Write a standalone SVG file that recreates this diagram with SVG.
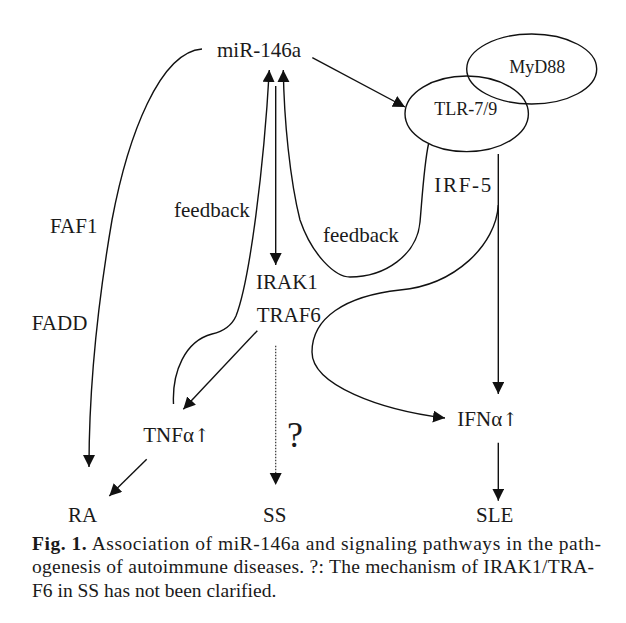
<svg xmlns="http://www.w3.org/2000/svg" width="626" height="623" viewBox="0 0 626 623">
<style>
text{font-family:"Liberation Serif","Times New Roman",serif;fill:#1a1a1a;}
.lbl{font-size:21px;}
.small{font-size:18px;}
.cap{font-size:19.5px;}
.arr{font-family:"DejaVu Serif",serif;font-size:19px;}
.edge{fill:none;stroke:#111;stroke-width:1.4;}
.dot{fill:none;stroke:#333;stroke-width:1.2;stroke-dasharray:1.5 1.5;}
.ell{fill:none;stroke:#111;stroke-width:1.4;}
</style>
<defs>
<marker id="ah" markerUnits="userSpaceOnUse" markerWidth="13" markerHeight="13" refX="12" refY="6" orient="auto">
<path d="M0,0 L12,6 L0,12 z" fill="#111"/>
</marker>
</defs>
<rect width="626" height="623" fill="#fff"/>
<g id="connectors">
<path class="edge" d="M202,49 C160,52 128,135 112,220 C100,290 89,380 89,467" marker-end="url(#ah)"/>
<path class="edge" d="M312.3,57.7 L405,107" marker-end="url(#ah)"/>
<path class="edge" d="M275.7,86 L275.7,265" marker-end="url(#ah)"/>
<path class="edge" d="M173.5,404 C172,372 185,341 212,334 C225,331 232,325 236,316 C250,280 264,165 269.3,70" marker-end="url(#ah)"/>
<path class="edge" d="M428.5,144 C424,165 422,200 420,222 C417,255 385,277 350,277 C335,277 312,255 300,220 C290,180 284,120 283.3,70" marker-end="url(#ah)"/>
<path class="edge" d="M257.3,330.7 L183.3,409.3" marker-end="url(#ah)"/>
<path class="edge" d="M146.7,459.3 L109.3,496" marker-end="url(#ah)"/>
<path class="dot" d="M275.7,345.7 L275.7,475"/>
<path class="edge" d="M275.7,474 L275.7,485" marker-end="url(#ah)" style="stroke:none"/>
<path class="edge" d="M498.3,154 L498.3,394" marker-end="url(#ah)"/>
<path class="edge" d="M498.3,205 C496,245 455,285 400,290 C345,296 312,318 312,352 C312,385 380,410 445,418" marker-end="url(#ah)"/>
<path class="edge" d="M498.3,442.7 L498.3,500.7" marker-end="url(#ah)"/>
</g>
<g id="node-mir146a"><text class="lbl" x="217" y="57">miR-146a</text></g>
<g id="node-myd88"><ellipse class="ell" cx="531.7" cy="69" rx="65" ry="35"/><text class="small" x="509.3" y="73.3">MyD88</text></g>
<g id="node-tlr"><ellipse class="ell" cx="466.7" cy="113.8" rx="61.7" ry="37.8"/><text class="small" x="434.3" y="115">TLR-7/9</text></g>
<g id="node-irf5"><text class="lbl" x="434.3" y="191.7" textLength="57" lengthAdjust="spacing">IRF-5</text></g>
<g id="label-feedback-left"><text class="lbl" x="174" y="217">feedback</text></g>
<g id="label-feedback-right"><text class="lbl" x="323" y="242">feedback</text></g>
<g id="label-faf1"><text class="lbl" x="50" y="233">FAF1</text></g>
<g id="label-fadd"><text class="lbl" x="31.7" y="330">FADD</text></g>
<g id="node-irak1"><text class="lbl" x="256" y="289.3">IRAK1</text><text class="lbl" x="256.7" y="321.7">TRAF6</text></g>
<g id="node-tnfa"><text class="lbl" x="143.3" y="442">TNFα<tspan class="arr">↑</tspan></text></g>
<g id="label-q"><text x="287" y="447" style="font-size:36px">?</text></g>
<g id="node-ifna"><text class="lbl" x="457.3" y="426">IFNα<tspan class="arr">↑</tspan></text></g>
<g id="node-ra"><text class="lbl" x="68" y="522">RA</text></g>
<g id="node-ss"><text class="lbl" x="263" y="522">SS</text></g>
<g id="node-sle"><text class="lbl" x="476" y="522">SLE</text></g>
<g id="caption">
<text class="cap" x="32" y="550" textLength="569" lengthAdjust="spacing"><tspan font-weight="bold">Fig. 1.</tspan>  Association of miR-146a and signaling pathways in the path-</text>
<text class="cap" x="32" y="573" textLength="562" lengthAdjust="spacing">ogenesis of autoimmune diseases. ?: The mechanism of IRAK1/TRA-</text>
<text class="cap" x="32" y="597">F6 in SS has not been clarified.</text>
</g>
</svg>
